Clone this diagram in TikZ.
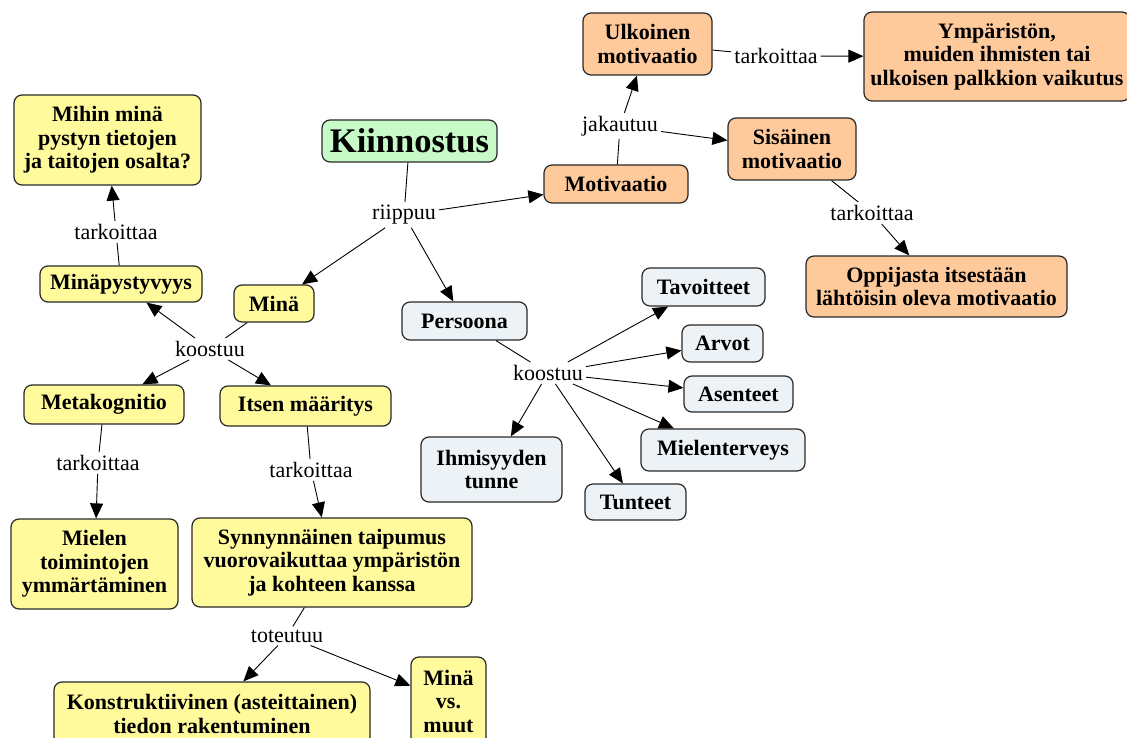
\documentclass[tikz,border=0pt]{standalone}
\usepackage{fontspec}
\setmainfont{Liberation Serif}
\usetikzlibrary{arrows.meta}
\definecolor{cyel}{RGB}{255,250,155}
\definecolor{cora}{RGB}{255,202,155}
\definecolor{cblu}{RGB}{236,242,245}
\definecolor{cgrn}{RGB}{200,250,200}
\definecolor{cedge}{RGB}{40,40,40}
\begin{document}
\begin{tikzpicture}[x=1pt,y=-1pt,
  box/.style={draw=cedge,line width=1.2pt,rounded corners=8pt,align=center,
    font=\fontsize{22}{23.5}\selectfont\bfseries,inner sep=2pt},
  ybox/.style={box,fill=cyel},
  obox/.style={box,fill=cora},
  bbox/.style={box,fill=cblu},
  gbox/.style={box,fill=cgrn,font=\fontsize{34.5}{36}\selectfont\bfseries},
  lbl/.style={font=\fontsize{22}{24}\selectfont,inner sep=3pt},
  ln/.style={draw=black,line width=0.9pt},
  ar/.style={draw=black,line width=0.9pt,-{Triangle[length=15pt,width=13pt]}}]
\useasboundingbox (0,0) rectangle (1127,738);
\clip (0,0) rectangle (1127,738);
\fill[white] (0,0) rectangle (1127,738);

% concept nodes
\node[obox,minimum width=129pt,minimum height=62pt] (ulk) at (647.5,44) {Ulkoinen\\motivaatio};
\node[obox,minimum width=266pt,minimum height=89pt] (ymp) at (997,56.5) {Ympäristön,\\muiden ihmisten tai\\ulkoisen palkkion vaikutus};
\node[obox,minimum width=128pt,minimum height=62pt] (sis) at (792,149) {Sisäinen\\motivaatio};
\node[obox,minimum width=144pt,minimum height=38pt] (mot) at (616,184) {Motivaatio};
\node[gbox,minimum width=175pt,minimum height=42pt] (kii) at (409.5,141) {Kiinnostus};
\node[ybox,minimum width=80pt,minimum height=37pt] (mina) at (274,303.5) {Minä};
\node[bbox,minimum width=125pt,minimum height=38pt] (pers) at (464.5,321) {Persoona};
\node[ybox,minimum width=162pt,minimum height=36pt] (minap) at (121,284) {Minäpystyvyys};
\node[ybox,minimum width=187pt,minimum height=90pt] (mihin) at (107.5,140) {Mihin minä\\pystyn tietojen\\ja taitojen osalta?};
\node[ybox,minimum width=160pt,minimum height=39pt] (meta) at (104,404.5) {Metakognitio};
\node[ybox,minimum width=171pt,minimum height=40pt] (itsen) at (305.5,406) {Itsen määritys};
\node[ybox,minimum width=167pt,minimum height=90pt] (mielen) at (94.5,564) {Mielen\\toimintojen\\ymmärtäminen};
\node[ybox,minimum width=280pt,minimum height=89pt] (synn) at (332,562.5) {Synnynnäinen taipumus\\vuorovaikuttaa ympäristön\\ja kohteen kanssa};
\node[ybox,minimum width=316pt,minimum height=64pt] (konst) at (212,714) {Konstruktiivinen (asteittainen)\\tiedon rakentuminen};
\node[ybox,minimum width=75pt,minimum height=88pt] (minavs) at (448.5,701) {Minä\\vs.\\muut};
\node[obox,minimum width=261pt,minimum height=61pt] (opp) at (936.5,286.5) {Oppijasta itsestään\\lähtöisin oleva motivaatio};
\node[bbox,minimum width=123pt,minimum height=38pt] (tav) at (703.5,287) {Tavoitteet};
\node[bbox,minimum width=81pt,minimum height=37pt] (arvot) at (722.5,343.5) {Arvot};
\node[bbox,minimum width=109pt,minimum height=36pt] (asen) at (738.5,394) {Asenteet};
\node[bbox,minimum width=164pt,minimum height=42pt] (mielent) at (723,450) {Mielenterveys};
\node[bbox,minimum width=101pt,minimum height=36pt] (tunt) at (635.5,502) {Tunteet};
\node[bbox,minimum width=141pt,minimum height=65pt] (ihm) at (491.5,469.5) {Ihmisyyden\\tunne};

% link labels
\node[lbl] (t1) at (776,56) {tarkoittaa};
\node[lbl] (jak) at (620,126) {jakautuu};
\node[lbl] (riip) at (404,215) {riippuu};
\node[lbl] (t2) at (116,232) {tarkoittaa};
\node[lbl] (k1) at (210,349) {koostuu};
\node[lbl] (t3) at (98,463) {tarkoittaa};
\node[lbl] (t4) at (311,470) {tarkoittaa};
\node[lbl] (tot) at (287,636) {toteutuu};
\node[lbl] (t5) at (872,213) {tarkoittaa};
\node[lbl] (k2) at (548,373) {koostuu};

% connectors
\path[ln] (ulk) -- (t1); \path[ar] (t1) -- (ymp);
\path[ln] (mot) -- (jak); \path[ar] (jak) -- (ulk); \path[ar] (jak) -- (sis);
\path[ln] (kii) -- (riip); \path[ar] (riip) -- (mot); \path[ar] (riip) -- (mina); \path[ar] (riip) -- (pers);
\path[ln] (mina) -- (k1); \path[ar] (k1) -- (minap); \path[ar] (k1) -- (meta); \path[ar] (k1) -- (itsen);
\path[ln] (minap) -- (t2); \path[ar] (t2) -- (mihin);
\path[ln] (meta) -- (t3); \path[ar] (t3) -- (mielen);
\path[ln] (itsen) -- (t4); \path[ar] (t4) -- (synn);
\path[ln] (synn) -- (tot); \path[ar] (tot) -- (konst); \path[ar] (tot) -- (minavs);
\path[ln] (sis) -- (t5); \path[ar] (t5) -- (opp);
\path[ln] (pers) -- (k2);
\path[ar] (k2) -- (tav); \path[ar] (k2) -- (arvot); \path[ar] (k2) -- (asen);
\path[ar] (k2) -- (mielent); \path[ar] (k2) -- (tunt); \path[ar] (k2) -- (ihm);
\end{tikzpicture}
\end{document}
